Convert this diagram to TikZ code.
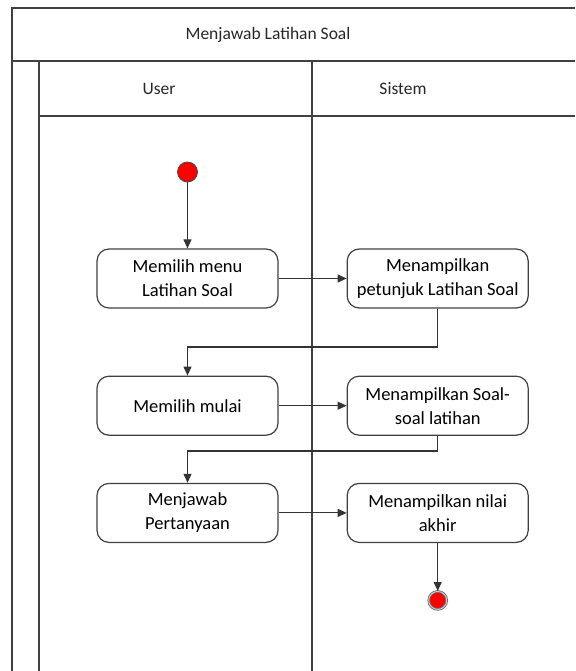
\documentclass[tikz,border=0pt]{standalone}
\usepackage{fontspec}
\setmainfont{Carlito}
\usepackage{tikz}
\usetikzlibrary{positioning,calc,arrows.meta}

\begin{document}
\begin{tikzpicture}[x=1pt,y=-1pt,node distance=68pt]
    \tikzstyle{garis} = [draw=black!75, line width=1.4pt]
    \tikzstyle{aksi} = [draw=black!75, line width=1.2pt, rounded corners=12pt, minimum width=181pt, minimum height=59pt, align=center, inner sep=2pt, font=\fontsize{18.5}{24}\selectfont]
    \tikzstyle{kepala} = [font=\fontsize{17.5}{21}\selectfont, text=black!85]
    \tikzstyle{awal} = [circle, fill=red, draw=black!70, line width=0.8pt, minimum size=20pt, inner sep=0pt]
    \tikzstyle{akhir} = [circle, fill=red, draw=black!60, double=white!80!black, double distance=1pt, line width=0.8pt, minimum size=18pt, inner sep=0pt]
    \tikzstyle{panah} = [draw=black!80, line width=1.1pt, -{Triangle[length=9pt,width=8pt]}]
    \useasboundingbox (0,0) rectangle (575,671);
    % kerangka swimlane
    \draw[garis] (12,671) -- (12,8) -- (575,8);
    \draw[garis] (12,61) -- (575,61);
    \draw[garis] (39,116) -- (575,116);
    \draw[garis] (39,61) -- (39,671);
    \draw[garis] (312,61) -- (312,671);
    \node[kepala] (judul) at (268,35) {Menjawab Latihan Soal};
    \node[kepala] (user) at (159,89) {User};
    \node[kepala] (sistem) at (403,89) {Sistem};
    % aktivitas
    \node[awal] (mulaiakt) at (187.5,172) {};
    \node[aksi] (pilihmenu) at (187.5,278.5) {Memilih menu\\Latihan Soal};
    \node[aksi, right=of pilihmenu] (petunjuk) {Menampilkan\\petunjuk Latihan Soal};
    \node[aksi, below=67pt of pilihmenu] (pilihmulai) {Memilih mulai};
    \node[aksi, right=of pilihmulai] (soal) {Menampilkan Soal-\\soal latihan};
    \node[aksi, below=47pt of pilihmulai] (jawab) {Menjawab\\Pertanyaan};
    \node[aksi, right=of jawab] (nilai) {Menampilkan nilai\\akhir};
    \node[akhir, below=48pt of nilai] (selesai) {};
    \coordinate (belok1) at (0,347);
    \coordinate (belok2) at (0,451);
    % alur
    \draw[panah] (mulaiakt) -- (pilihmenu);
    \draw[panah] (pilihmenu) -- (petunjuk);
    \draw[panah] (petunjuk.south) -- (petunjuk.south |- belok1) -| (pilihmulai.north);
    \draw[panah] (pilihmulai) -- (soal);
    \draw[panah] (soal.south) -- (soal.south |- belok2) -| (jawab.north);
    \draw[panah] (jawab) -- (nilai);
    \draw[panah] (nilai) -- (selesai);
\end{tikzpicture}
\end{document}
